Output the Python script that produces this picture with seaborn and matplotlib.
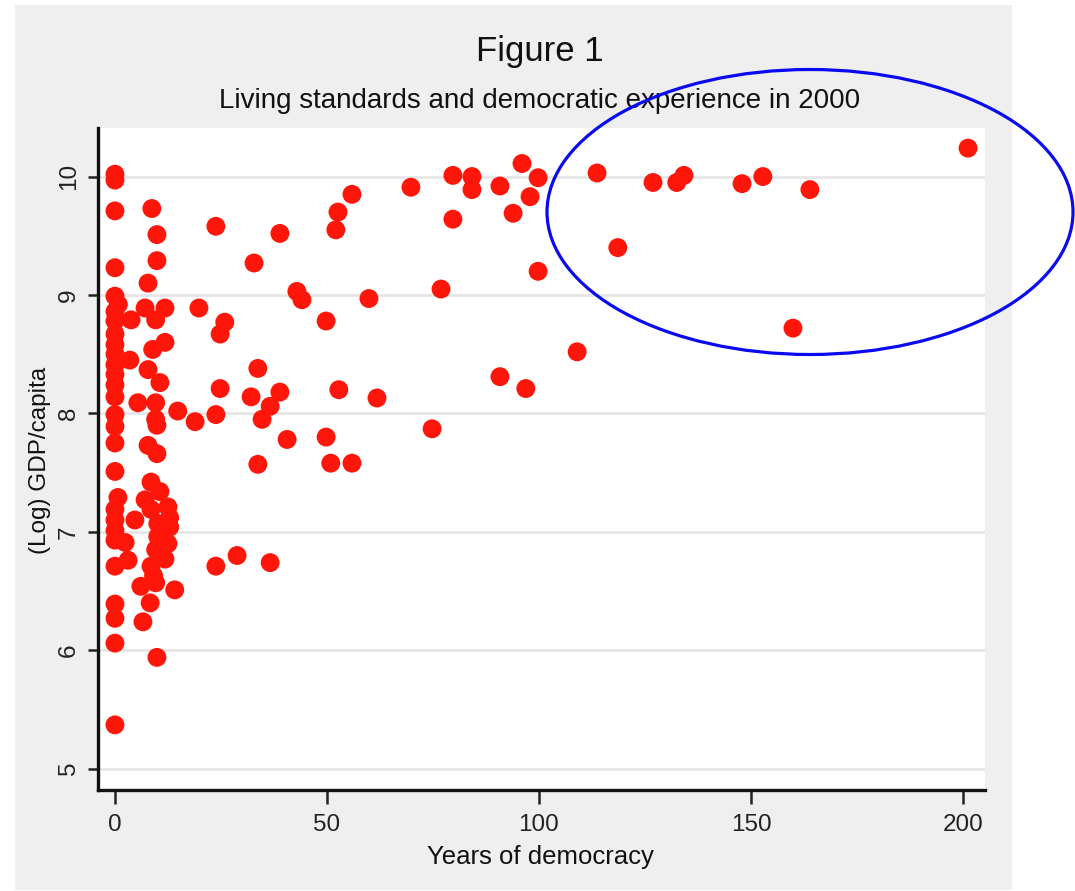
import matplotlib
matplotlib.use("Agg")
import matplotlib.pyplot as plt
from matplotlib.patches import Ellipse, Rectangle
import seaborn as sns
import pandas as pd

years = [0, 0, 0, 0, 0, 0.8, 0, 0, 0, 0, 0, 0, 0, 0, 0, 0, 0, 0, 0, 0.7, 0, 0, 0, 0, 0, 0, 0, 0, 0,
         3.8, 3.5, 2.4, 3.1, 4.7, 5.4, 6.6, 6.1,
         8.7, 9.9, 9.9, 7.8, 7.1, 11.8, 9.6, 11.8, 8.9, 7.8, 10.6, 9.6, 9.6, 14.8, 9.9, 7.8, 9.9,
         8.5, 10.6, 7.1, 8.5, 12.5, 12.9, 10.1, 9.6, 11.8, 8.5, 9.6, 14.1, 8.3, 9.9, 12.9, 12.5, 10.1, 9.1,
         18.9, 19.8, 23.8, 25.9, 24.8, 24.8, 23.8, 23.8, 28.8, 32.8, 33.7, 32.1, 34.7, 36.6, 38.9, 38.9,
         33.7, 36.6, 40.6, 42.9, 44.1,
         49.8, 49.8, 50.9, 55.9, 52.8, 52.1, 52.6, 55.9, 59.9, 61.8,
         69.8, 74.8, 76.9, 79.7, 79.7, 84.2, 84.2, 90.8, 90.8, 93.9, 96.0, 96.9, 97.9, 99.8, 99.8, 109.0,
         113.7, 126.9, 132.5, 134.2, 147.9, 152.8, 163.9, 118.6, 159.9, 201.2]

log_gdp = [10.02, 9.97, 9.71, 9.23, 8.99, 8.92, 8.86, 8.78, 8.67, 8.58, 8.50, 8.41, 8.33, 8.24, 8.14,
           7.99, 7.89, 7.75, 7.51, 7.29, 7.19, 7.10, 7.01, 6.93, 6.71, 6.39, 6.27, 6.06, 5.37,
           8.79, 8.45, 6.91, 6.76, 7.10, 8.09, 6.24, 6.54,
           9.73, 9.51, 9.29, 9.10, 8.89, 8.89, 8.79, 8.60, 8.54, 8.37, 8.26, 8.09, 7.95, 8.02, 7.90, 7.73, 7.66,
           7.42, 7.34, 7.27, 7.19, 7.21, 7.04, 6.96, 6.85, 6.77, 6.71, 6.57, 6.51, 6.40, 5.94, 7.12, 6.90, 7.07, 6.63,
           7.93, 8.89, 9.58, 8.77, 8.67, 8.21, 7.99, 6.71, 6.80, 9.27, 8.38, 8.14, 7.95, 8.06, 8.18, 9.52,
           7.57, 6.74, 7.78, 9.03, 8.96,
           8.78, 7.80, 7.58, 7.58, 8.20, 9.55, 9.70, 9.85, 8.97, 8.13,
           9.91, 7.87, 9.05, 10.01, 9.64, 10.00, 9.89, 9.92, 8.31, 9.69, 10.11, 8.21, 9.83, 9.99, 9.20, 8.52,
           10.03, 9.95, 9.95, 10.01, 9.94, 10.00, 9.89, 9.40, 8.72, 10.24]

x_ticks = [0, 50, 100, 150, 200]
y_ticks = [5, 6, 7, 8, 9, 10]
title_text = "Figure 1"
subtitle_text = "Living standards and democratic experience in 2000"
x_label = "Years of democracy"
y_label = "(Log) GDP/capita"

df = pd.DataFrame({"years": years, "gdp": log_gdp})

sns.set_style("white")
plt.rcParams["font.family"] = ["Liberation Sans", "DejaVu Sans"]

W, H = 1075, 891
fig = plt.figure(figsize=(W / 100, H / 100), dpi=100, facecolor="white")
fig.patches.append(Rectangle((15 / W, 1 - 890 / H), (1012 - 15) / W, (890 - 5) / H,
                             transform=fig.transFigure, facecolor="#efefef",
                             edgecolor="none", zorder=-5))

ax = fig.add_axes([98 / W, 1 - 790 / H, (985 - 98) / W, (790 - 128) / H])
ax.set_zorder(2)
ax.set_facecolor("white")

sns.scatterplot(data=df, x="years", y="gdp", ax=ax, color="#ff160a", s=185,
                edgecolor="none", linewidth=0, zorder=3)

ax.set_xlim(-4.0, 205.2)
ax.set_ylim(4.82, 10.41)
ax.set_xticks(x_ticks)
ax.set_yticks(y_ticks)
ax.set_xticklabels([str(t) for t in x_ticks], fontsize=17.5)
ax.set_yticklabels([str(t) for t in y_ticks], fontsize=17.5, rotation=90, va="center")
ax.tick_params(axis="x", bottom=True, direction="out", length=10, width=1.8, pad=7,
               color="#222222", labelcolor="#222222")
ax.tick_params(axis="y", left=True, direction="out", length=7, width=1.8, pad=6,
               color="#222222", labelcolor="#222222")
ax.grid(axis="y", color="#e6e6e6", linewidth=2)
ax.grid(axis="x", visible=False)
ax.set_axisbelow(True)
for side in ["top", "right"]:
    ax.spines[side].set_visible(False)
for side in ["left", "bottom"]:
    ax.spines[side].set_color("#111111")
    ax.spines[side].set_linewidth(2.4)
ax.set_xlabel("")
ax.set_ylabel("")

fig.text(540 / W, 1 - 52 / H, title_text, ha="center", va="center", fontsize=25, color="#111111")
fig.text(540 / W, 1 - 101 / H, subtitle_text, ha="center", va="center", fontsize=20, color="#111111")
fig.text(540 / W, 1 - 857 / H, x_label, ha="center", va="center", fontsize=18.5, color="#111111")
fig.text(40 / W, 1 - 460 / H, y_label, ha="center", va="center", rotation=90, fontsize=17.5, color="#111111")

ell = Ellipse((810 / W, 1 - 212 / H), 526 / W, 285 / H, transform=fig.transFigure,
              fill=False, edgecolor="#0a0af0", linewidth=2.3, zorder=10, clip_on=False)
fig.add_artist(ell)

fig.savefig("out.png", dpi=100, facecolor="white")
